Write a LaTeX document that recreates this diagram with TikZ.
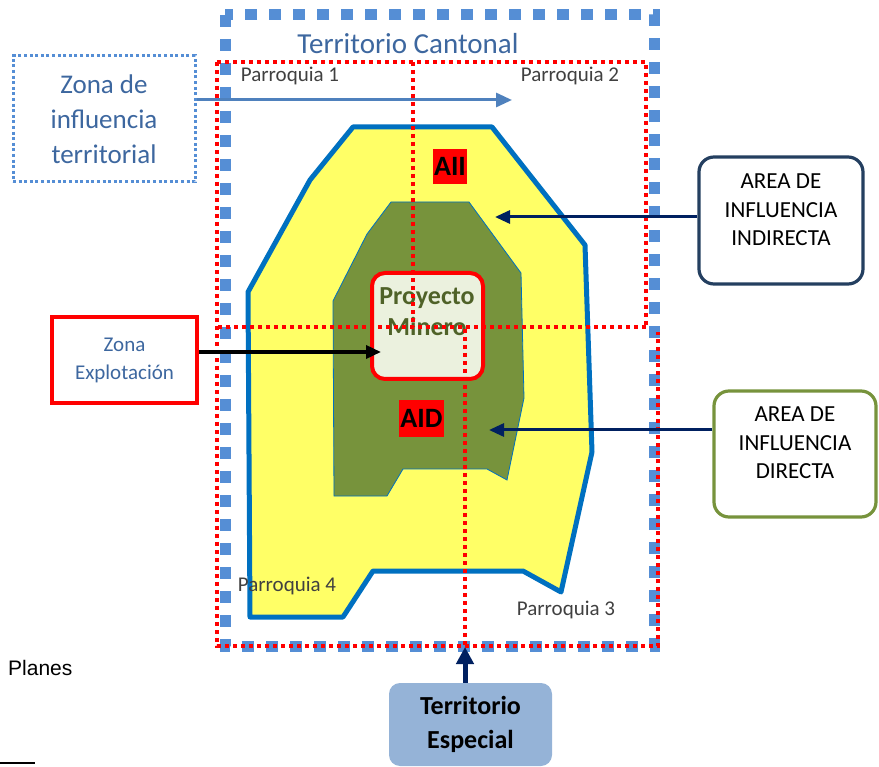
\documentclass[tikz,border=0pt]{standalone}
\usepackage{fontspec}
\setmainfont{Carlito}
\newfontfamily\arialfont{Liberation Sans}
\usetikzlibrary{arrows.meta,calc}

\definecolor{sqblue}{HTML}{558ED5}
\definecolor{bordblue}{HTML}{0070C0}
\definecolor{zoneyellow}{HTML}{FFFF66}
\definecolor{aidgreen}{HTML}{77933C}
\definecolor{navyline}{HTML}{002060}
\definecolor{labelblue}{HTML}{3D679F}
\definecolor{parrgray}{HTML}{404040}
\definecolor{minerotext}{HTML}{4F6228}
\definecolor{minerofill}{HTML}{EBF1DE}
\definecolor{indirborder}{HTML}{243F60}
\definecolor{especialfill}{HTML}{95B3D7}
\definecolor{arrowblue}{HTML}{4F81BD}

\tikzset{
  cantonal/.style={sqblue, line width=11pt, dash pattern=on 12pt off 12pt},
  redline/.style={red, line width=3.5pt, dash pattern=on 4pt off 4pt},
  parrlabel/.style={text=parrgray, inner sep=0pt, font=\fontsize{21}{25}\selectfont},
  areatag/.style={fill=red, inner sep=0pt, font=\bfseries\fontsize{28}{30}\selectfont},
  navyarrow/.style={navyline, line width=3pt, -{Triangle[length=15pt,width=13pt]}},
  areabox/.style={rounded corners=15pt, line width=3.2pt, fill=white},
  areatext/.style={align=center, font=\fontsize{23}{28.5}\selectfont, inner sep=0pt},
}

\begin{document}
\begin{tikzpicture}[x=1pt, y=-1pt]
\useasboundingbox (0,0) rectangle (879,767);

% outer canton boundary
\draw[cantonal] (225,15) rectangle (654,646);

% areas of influence
\draw[bordblue, line width=5pt, fill=zoneyellow, line join=round]
  (353,127) -- (492,127) -- (585,245) -- (592,452) -- (561,592) -- (523,571)
  -- (373,571) -- (343,617) -- (250,617) -- (248,292) -- (310,180) -- cycle;
\draw[bordblue, line width=0.8pt, fill=aidgreen]
  (391,202) -- (469,202) -- (521,273) -- (524,398) -- (507,480) -- (487,469)
  -- (403,469) -- (387,496) -- (334,496) -- (333,301) -- (367,234) -- cycle;

% mining project
\node[draw=red, line width=4pt, fill=minerofill, rounded corners=13pt,
      minimum width=111pt, minimum height=106pt] (minero) at (427.5,326) {};
\node[text=minerotext, align=center, inner sep=0pt,
      font=\bfseries\fontsize{26}{31}\selectfont] (minerotxt) at (427,312) {Proyecto\\Minero};

% parish boundaries
\draw[redline] (217,62) -- (646,62) -- (646,327);
\draw[redline] (217,62) -- (217,646) -- (658,646) -- (658,332);
\draw[redline] (218,327) -- (646,327);
\draw[redline] (413,62) -- (413,327);
\draw[redline] (465,329) -- (465,646);

% area tags
\node[areatag, minimum width=34pt, minimum height=35pt] (aii) at (450,166.5) {AII};
\node[areatag, minimum width=45pt, minimum height=37pt] (aid) at (421.5,418.5) {AID};

% titles and parish names
\node[text=labelblue, inner sep=0pt, font=\fontsize{29}{34}\selectfont] (cantonal) at (408,44) {Territorio Cantonal};
\node[parrlabel] (p1) at (290,76) {Parroquia 1};
\node[parrlabel] (p2) at (570,76) {Parroquia 2};
\node[parrlabel] (p4) at (287,586) {Parroquia 4};
\node[parrlabel] (p3) at (566,610) {Parroquia 3};

% side boxes
\node[draw=sqblue, line width=3pt, dash pattern=on 3pt off 2.6pt,
      minimum width=182pt, minimum height=126pt, text=labelblue, align=center,
      font=\fontsize{27}{35}\selectfont] (zit) at (104,119) {Zona de\\influencia\\territorial};
\node[draw=red, line width=4pt, minimum width=145pt, minimum height=86pt,
      text=labelblue, align=center, font=\fontsize{21}{28}\selectfont] (zexp) at (124.5,360) {Zona\\Explotación};
\node[areabox, draw=indirborder, minimum width=164pt, minimum height=127pt] (ind) at (781,220.5) {};
\node[areatext] (indtxt) at (781,210) {AREA DE\\INFLUENCIA\\INDIRECTA};
\node[areabox, draw=aidgreen, minimum width=162pt, minimum height=126pt] (dir) at (795,454) {};
\node[areatext] (dirtxt) at (795,443) {AREA DE\\INFLUENCIA\\DIRECTA};
\node[fill=especialfill, rounded corners=11pt, minimum width=163pt, minimum height=83pt,
      align=center, font=\bfseries\fontsize{26}{34}\selectfont] (esp) at (470.5,724.5) {Territorio\\Especial};

% footnote remnants
\node[anchor=west, inner sep=0pt, font=\arialfont\fontsize{21}{25}\selectfont] (planes) at (8,668) {Planes};
\coordinate (ruleA) at (0,763);
\coordinate (ruleB) at (35,763);
\draw[line width=1.5pt] (ruleA) -- (ruleB);

% connectors
\coordinate (terrtip) at (512,100);
\coordinate (indtip) at (495,217);
\coordinate (dirtip) at (489,430);
\coordinate (exptip) at (381,352);
\coordinate (esptip) at (465,647);
\draw[arrowblue, line width=3pt, -{Triangle[length=16pt,width=14pt]}] (zit.east |- terrtip) -- (terrtip);
\draw[navyarrow] (ind.west |- indtip) -- (indtip);
\draw[navyarrow] (dir.west |- dirtip) -- (dirtip);
\draw[black, line width=3.5pt, -{Triangle[length=15pt,width=13pt]}] (zexp.east |- exptip) -- (exptip);
\draw[navyline, line width=5pt, -{Triangle[length=17pt,width=17pt]}] (esp.north -| esptip) -- (esptip);
\end{tikzpicture}
\end{document}
